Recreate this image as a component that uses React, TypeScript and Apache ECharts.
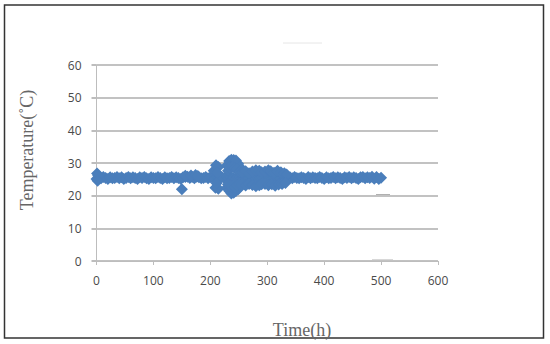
import React, { useEffect, useRef } from "react";
import * as echarts from "echarts";

const xTicks = [0, 100, 200, 300, 400, 500, 600];
const yTicks = [0, 10, 20, 30, 40, 50, 60];

const baseHours = [
  0, 4, 8, 12, 16, 20, 24, 28, 32, 36,
  40, 44, 48, 52, 56, 60, 64, 68, 72, 76,
  80, 84, 88, 92, 96, 100, 104, 108, 112, 116,
  120, 124, 128, 132, 136, 140, 144, 148, 152, 156,
  160, 164, 168, 172, 176, 180, 184, 188, 192, 196,
  200, 204, 208, 212, 216, 220, 224, 228, 232, 236,
  240, 244, 248, 252, 256, 260, 264, 268, 272, 276,
  280, 284, 288, 292, 296, 300, 304, 308, 312, 316,
  320, 324, 328, 332, 336, 340, 344, 348, 352, 356,
  360, 364, 368, 372, 376, 380, 384, 388, 392, 396,
  400, 404, 408, 412, 416, 420, 424, 428, 432, 436,
  440, 444, 448, 452, 456, 460, 464, 468, 472, 476,
  480, 484, 488, 492, 496, 500,
];
const baseTemps = [
  25.1, 25.6, 25.3, 25.7, 25.4, 25.1, 25.6, 25.3, 25.4, 25.7,
  25.3, 25.6, 25.1, 25.4, 25.7, 25.3, 25.6, 25.4, 25.1, 25.6,
  25.4, 25.7, 25.3, 25.1, 25.6, 25.4, 25.3, 25.7, 25.4, 25.1,
  25.6, 25.3, 25.4, 25.7, 25.3, 25.6, 25.4, 25.1, 25.6, 25.7,
  25.8, 25.4, 25.7, 25.3, 25.8, 25.6, 25.3, 25.4, 25.7, 25.3,
  25.6, 25.4, 25.1, 25.7, 25.3, 25.6, 25.4, 25.7, 25.3, 25.6,
  25.4, 25.1, 25.6, 25.7, 25.3, 25.4, 25.6, 25.3, 25.7, 25.4,
  25.1, 25.6, 25.3, 25.7, 25.4, 25.6, 25.3, 25.1, 25.6, 25.4,
  25.7, 25.3, 25.6, 25.4, 25.1, 25.6, 25.3, 25.7, 25.4, 25.3,
  25.6, 25.4, 25.1, 25.7, 25.3, 25.6, 25.4, 25.3, 25.7, 25.4,
  25.1, 25.6, 25.3, 25.4, 25.7, 25.3, 25.6, 25.4, 25.1, 25.6,
  25.4, 25.7, 25.3, 25.6, 25.4, 25.1, 25.6, 25.7, 25.3, 25.6,
  25.4, 25.8, 25.2, 25.7, 25.1, 25.5,
];

const eventHours = [
  1, 3, 2,
  150,
  156, 166, 174, 178,
  206, 210, 214, 212, 209, 214, 211,
  229, 233, 237, 241, 245, 249, 252,
  229, 233, 237, 241, 245, 249, 252,
  231, 235, 239, 243, 247, 251,
  231, 235, 239, 243, 247, 251,
  256, 262, 268, 274, 280, 286, 290,
  256, 262, 268, 274, 280, 286, 290,
  296, 302, 306, 312, 318, 324, 330, 334,
  296, 302, 308, 314, 320, 326, 332,
];
const eventTemps = [
  26.8, 26.2, 24.6,
  22.0,
  26.1, 26.2, 26.3, 26.0,
  27.6, 29.3, 28.8, 27.0, 22.4, 22.1, 23.8,
  29.2, 30.6, 31.0, 30.9, 30.8, 29.8, 28.8,
  22.4, 21.5, 20.7, 20.9, 21.4, 22.0, 23.0,
  27.6, 28.6, 28.8, 28.4, 28.2, 27.3,
  23.4, 23.0, 22.8, 22.6, 23.2, 23.6,
  27.2, 27.5, 26.9, 27.4, 27.8, 27.6, 27.2,
  23.4, 23.1, 23.6, 23.3, 22.9, 23.2, 23.5,
  27.4, 27.8, 27.5, 27.0, 27.6, 27.2, 26.9, 26.5,
  23.6, 23.2, 23.5, 23.0, 23.4, 23.6, 23.9,
];

export default function App() {
  const ref = useRef<HTMLDivElement>(null);
  useEffect(() => {
    if (!ref.current) return;
    const chart = echarts.init(ref.current, undefined, { renderer: "svg" });
    const pts: number[][] = [];
    baseHours.forEach((h, i) => pts.push([h, baseTemps[i]]));
    eventHours.forEach((h, i) => pts.push([h, eventTemps[i]]));
    const labelStyle = {
      color: "#4a4a4a",
      fontFamily: "Open Sans",
      fontSize: 12,
    };
    chart.setOption({
      animation: false,
      backgroundColor: "#ffffff",
      grid: { left: 96.5, right: 112, top: 65, bottom: 83 },
      xAxis: {
        type: "value",
        min: xTicks[0],
        max: xTicks[xTicks.length - 1],
        interval: 100,
        axisLine: { show: true, lineStyle: { color: "#bdbdbd", width: 1 } },
        axisTick: { show: true, length: 4, lineStyle: { color: "#bdbdbd" } },
        splitLine: { show: false },
        axisLabel: { ...labelStyle, margin: 13 },
      },
      yAxis: {
        type: "value",
        min: yTicks[0],
        max: yTicks[yTicks.length - 1],
        interval: 10,
        axisLine: { show: true, lineStyle: { color: "#bdbdbd", width: 1 } },
        axisTick: { show: true, length: 5, lineStyle: { color: "#bdbdbd", width: 2 } },
        splitLine: { show: true, lineStyle: { color: "#c2c2c2", width: 2 } },
        axisLabel: { ...labelStyle, margin: 15 },
      },
      series: [
        {
          type: "scatter",
          symbol: "diamond",
          symbolSize: 12,
          itemStyle: { color: "#4a7ebb", opacity: 1 },
          data: pts,
        },
      ],
      graphic: [
        {
          type: "rect",
          shape: { x: 4.5, y: 5, width: 539, height: 333 },
          style: { fill: "none", stroke: "#333333", lineWidth: 1.5 },
        },
        {
          type: "line",
          shape: { x1: 376, y1: 195, x2: 390, y2: 195 },
          style: { stroke: "#b0b0b0", lineWidth: 2 },
        },
        {
          type: "line",
          shape: { x1: 372, y1: 260.5, x2: 393, y2: 260.5 },
          style: { stroke: "#b0b0b0", lineWidth: 2 },
        },
        {
          type: "line",
          shape: { x1: 283, y1: 43, x2: 322, y2: 43 },
          style: { stroke: "#e6e6e6", lineWidth: 1 },
        },
        {
          type: "text",
          x: 27,
          y: 150,
          rotation: Math.PI / 2,
          style: {
            text: "Temperature(˚C)",
            fontFamily: "Liberation Serif",
            fontSize: 18,
            fill: "#666666",
            align: "center",
            verticalAlign: "middle",
          },
        },
        {
          type: "text",
          x: 302,
          y: 330,
          style: {
            text: "Time(h)",
            fontFamily: "Liberation Serif",
            fontSize: 18,
            fill: "#666666",
            align: "center",
            verticalAlign: "middle",
          },
        },
      ],
    });
    return () => chart.dispose();
  }, []);
  return (
    <div
      ref={ref}
      style={{ position: "absolute", left: 0, top: 0, width: 550, height: 344 }}
    />
  );
}
